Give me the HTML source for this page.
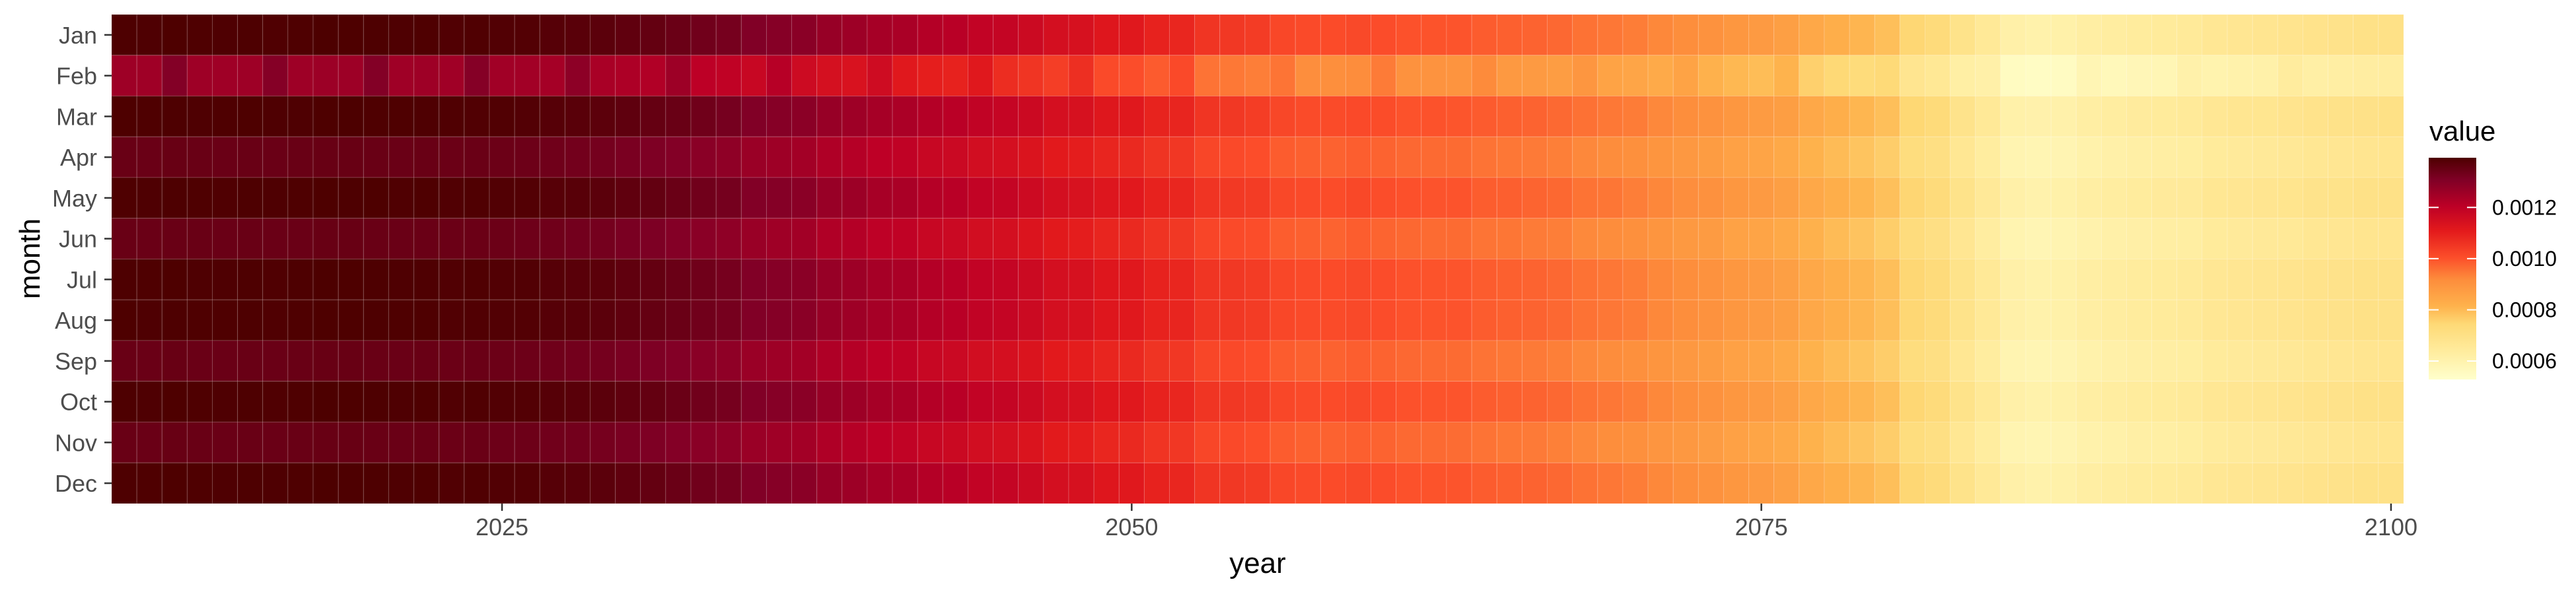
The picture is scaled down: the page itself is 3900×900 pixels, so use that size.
<!DOCTYPE html>
<html><head><meta charset="utf-8"><style>
html,body{margin:0;padding:0;background:#fff;}
svg{display:block;font-family:"Liberation Sans",Arial,sans-serif;}
</style></head><body>
<svg id="chart" width="3900" height="900" xmlns="http://www.w3.org/2000/svg">
<defs>
<linearGradient id="cbar" x1="0" y1="1" x2="0" y2="0">
<stop offset="0" stop-color="#FFFFCC"/><stop offset="0.12" stop-color="#FFEDA0"/><stop offset="0.25" stop-color="#FED976"/><stop offset="0.33" stop-color="#FEB24C"/><stop offset="0.45" stop-color="#FD8D3C"/><stop offset="0.55" stop-color="#FC4E2A"/><stop offset="0.67" stop-color="#E31A1C"/><stop offset="0.78" stop-color="#BD0026"/><stop offset="0.9" stop-color="#800026"/><stop offset="1" stop-color="#4D0000"/>
</linearGradient>
</defs>
<g id="cells"></g>
<g id="axes"></g>
<text x="1904" y="868" font-size="44" text-anchor="middle" fill="#000">year</text>
<text transform="translate(60,392) rotate(-90)" font-size="44" text-anchor="middle" fill="#000">month</text>
<g>
<text x="3678" y="213" font-size="42" fill="#000">value</text>
<rect x="3677" y="239" width="72" height="336" fill="url(#cbar)"/>
<g id="legendTicks"></g>
</g>
</svg>
<script>
const months = ["Jan","Feb","Mar","Apr","May","Jun","Jul","Aug","Sep","Oct","Nov","Dec"];
const yearStart = 2010;
const yearEnd = 2100;
const xTicks = [2025, 2050, 2075, 2100];
const legendTicks = [0.0006, 0.0008, 0.0010, 0.0012];
const legendTickLabels = ["0.0006","0.0008","0.0010","0.0012"];
const valueMin = 528e-6, valueMax = 1394e-6;
// values in units of 1e-6
const jan = [1392,1390,1393,1391,1390,1392,1389,1391,1394,1393,1392,1390,1391,1388,1389,1386,1384,1378,1374,1370,1362,1355,1345,1333,1325,1305,1298,1290,1268,1258,1242,1235,1218,1210,1192,1185,1168,1148,1140,1122,1115,1092,1085,1055,1048,1040,1018,1012,1010,1015,1008,1000,998,996,985,980,975,968,955,948,940,925,915,905,890,880,868,842,825,808,790,748,732,690,655,612,605,610,625,632,640,645,650,665,670,675,680,688,692,698,700];
const feb = [1257,1255,1302,1256,1255,1257,1299,1256,1259,1258,1302,1255,1256,1253,1299,1252,1250,1244,1285,1237,1230,1224,1258,1204,1196,1178,1214,1165,1145,1136,1161,1115,1100,1093,1115,1070,1055,1037,1066,1013,1007,986,1014,953,946,939,952,914,912,917,942,903,901,899,921,885,880,874,893,856,849,835,856,817,804,795,812,760,745,730,739,675,661,623,612,553,546,551,584,571,578,582,608,600,605,610,636,621,625,630,632];
const mar = [1393,1391,1392,1390,1391,1393,1390,1390,1393,1394,1391,1391,1390,1389,1388,1387,1383,1379,1373,1369,1363,1354,1346,1334,1324,1306,1297,1289,1269,1257,1243,1234,1219,1209,1193,1184,1169,1147,1141,1121,1116,1091,1086,1054,1049,1039,1019,1011,1011,1014,1009,999,999,995,986,979,976,967,956,947,941,924,916,904,891,879,869,841,826,807,791,747,733,689,656,611,606,609,626,631,641,644,651,664,671,674,681,687,693,697,701];
const apr = [1347,1345,1348,1346,1345,1347,1344,1346,1349,1348,1347,1345,1346,1343,1344,1341,1339,1334,1330,1326,1318,1311,1302,1290,1282,1263,1256,1248,1227,1217,1202,1195,1179,1171,1154,1147,1130,1111,1103,1086,1079,1057,1050,1021,1014,1006,985,979,977,982,975,968,966,964,953,948,944,937,924,917,910,895,886,876,861,852,840,815,798,782,765,724,709,668,634,592,586,590,605,612,619,624,629,644,649,653,658,666,670,676,678];
const may = [1391,1390,1392,1391,1389,1392,1390,1391,1393,1392,1393,1389,1391,1387,1389,1385,1384,1377,1375,1370,1361,1356,1344,1333,1326,1304,1299,1290,1267,1259,1241,1236,1217,1211,1191,1186,1167,1149,1139,1123,1114,1093,1084,1056,1047,1041,1017,1013,1009,1016,1007,1001,997,997,984,981,974,969,954,949,939,926,914,906,889,881,867,843,824,809,789,749,731,691,654,613,604,611,624,633,639,646,649,666,669,676,679,689,691,699,699];
const jun = [1346,1345,1347,1346,1344,1347,1344,1345,1348,1348,1346,1345,1345,1343,1343,1341,1338,1335,1329,1326,1317,1312,1301,1290,1281,1264,1255,1249,1226,1218,1201,1196,1178,1172,1153,1148,1129,1112,1102,1087,1078,1058,1049,1022,1013,1007,984,980,976,983,974,969,965,965,952,949,943,938,923,918,909,896,885,877,860,853,839,816,797,783,764,725,708,669,633,593,585,591,604,613,618,625,628,645,648,654,657,667,669,677,677];
const jul = [1392,1391,1393,1390,1390,1392,1389,1392,1394,1393,1392,1390,1390,1388,1389,1386,1385,1378,1374,1371,1362,1355,1345,1334,1325,1305,1298,1291,1268,1258,1242,1235,1218,1210,1192,1186,1168,1148,1140,1122,1115,1092,1085,1055,1048,1040,1018,1012,1010,1015,1008,1000,998,996,985,980,975,968,955,948,940,925,915,905,890,880,868,842,825,808,790,748,732,690,655,612,605,610,625,632,640,645,650,665,670,675,680,688,692,698,700];
const aug = [1393,1390,1392,1391,1391,1392,1389,1391,1393,1393,1392,1391,1391,1388,1388,1386,1384,1378,1375,1370,1362,1354,1345,1333,1325,1305,1299,1290,1268,1257,1242,1235,1218,1210,1193,1185,1168,1148,1141,1122,1115,1092,1086,1055,1048,1040,1018,1012,1011,1015,1008,1000,998,997,985,980,975,968,955,948,941,925,915,905,890,880,869,842,825,808,790,748,732,690,655,612,605,611,625,632,640,645,650,665,670,675,680,688,692,698,700];
const sep = [1347,1345,1348,1345,1345,1347,1344,1346,1349,1348,1347,1345,1346,1343,1344,1341,1339,1334,1330,1326,1318,1311,1302,1290,1282,1263,1256,1248,1227,1217,1202,1195,1179,1171,1154,1147,1130,1111,1103,1086,1079,1057,1050,1021,1014,1006,985,979,977,982,975,968,966,964,953,948,944,937,924,917,910,895,886,876,861,852,840,815,798,782,765,724,709,668,634,592,586,590,605,612,619,624,629,644,649,653,658,666,670,676,678];
const oct = [1392,1390,1393,1391,1390,1392,1389,1391,1394,1393,1392,1390,1391,1388,1389,1386,1384,1378,1374,1370,1362,1355,1345,1333,1325,1305,1298,1290,1268,1258,1242,1235,1218,1210,1192,1185,1168,1148,1140,1122,1115,1092,1085,1055,1048,1040,1018,1012,1010,1015,1008,1000,998,996,985,980,975,968,955,948,940,925,915,905,890,880,868,842,825,808,790,748,732,690,655,612,605,610,625,632,640,645,650,665,670,675,680,688,692,698,700];
const nov = [1346,1345,1348,1346,1345,1346,1344,1346,1348,1348,1347,1344,1346,1343,1344,1340,1339,1333,1330,1325,1318,1311,1301,1290,1281,1263,1255,1248,1227,1216,1202,1194,1179,1170,1154,1146,1130,1110,1103,1085,1079,1056,1050,1020,1014,1005,985,978,977,981,975,967,966,963,953,947,944,936,924,916,910,894,886,875,861,851,840,814,798,781,765,723,709,667,634,591,586,589,605,611,619,623,629,643,649,652,658,665,670,675,678];
const dec = [1392,1391,1393,1391,1390,1392,1390,1391,1394,1392,1392,1390,1391,1388,1389,1386,1384,1378,1374,1370,1362,1355,1345,1333,1325,1305,1298,1290,1268,1258,1242,1235,1218,1210,1192,1185,1168,1148,1140,1122,1115,1092,1085,1055,1048,1040,1018,1012,1010,1015,1008,1000,998,996,985,980,975,968,955,948,940,925,915,905,890,880,868,842,825,808,790,748,732,690,655,612,605,610,625,632,640,645,650,665,670,675,680,688,692,698,700];
const series = [jan,feb,mar,apr,may,jun,jul,aug,sep,oct,nov,dec];

const P = {l:169, r:3639, t:22, b:763};
const nYears = yearEnd - yearStart + 1;
const cw = (P.r - P.l) / nYears;
const rh = (P.b - P.t) / months.length;
function xScale(year){ return P.l + (year - yearStart + 0.5) * cw; }
function yScale(i){ return P.t + (i + 0.5) * rh; }
const stops = [[0,"#FFFFCC"],[0.12,"#FFEDA0"],[0.25,"#FED976"],[0.33,"#FEB24C"],[0.45,"#FD8D3C"],[0.55,"#FC4E2A"],[0.67,"#E31A1C"],[0.78,"#BD0026"],[0.9,"#800026"],[1,"#4D0000"]];
function hex(c){return [parseInt(c.slice(1,3),16),parseInt(c.slice(3,5),16),parseInt(c.slice(5,7),16)];}
function colorScale(v){
  let f = (v - valueMin) / (valueMax - valueMin);
  f = Math.max(0, Math.min(1, f));
  for (let k = 1; k < stops.length; k++){
    if (f <= stops[k][0]){
      const a = stops[k-1], b = stops[k];
      const t = (f - a[0]) / (b[0] - a[0]);
      const ca = hex(a[1]), cb = hex(b[1]);
      return "rgb(" + ca.map((x,j)=>Math.round(x + (cb[j]-x)*t)).join(",") + ")";
    }
  }
  return stops[stops.length-1][1];
}
function legendY(v){ return 575 - (v - valueMin) / (valueMax - valueMin) * 336; }
const NS = "http://www.w3.org/2000/svg";
function mk(tag, attrs, parent){
  const e = document.createElementNS(NS, tag);
  for (const k in attrs) e.setAttribute(k, attrs[k]);
  parent.appendChild(e);
  return e;
}
const cells = document.getElementById("cells");
series.forEach((arr, mi) => {
  arr.forEach((val, yi) => {
    const yr = yearStart + yi;
    const r = mk("rect", {x: xScale(yr) - cw/2, y: yScale(mi) - rh/2, width: cw, height: rh, fill: colorScale(val * 1e-6), stroke: "rgba(255,255,255,0.18)", "stroke-width": 1}, cells);
    
    
  });
});
const axes = document.getElementById("axes");
months.forEach((m, i) => {
  const t = mk("line", {x1: 158, x2: P.l, y1: yScale(i), y2: yScale(i), stroke: "#333", "stroke-width": 2.5}, axes);
  
  
  const tx = mk("text", {x: 147, y: yScale(i) + 13, "font-size": 36, "text-anchor": "end", fill: "#4d4d4d"}, axes);
  tx.textContent = m;
  
  
});
xTicks.forEach(yr => {
  const t = mk("line", {x1: xScale(yr), x2: xScale(yr), y1: P.b, y2: P.b + 11, stroke: "#333", "stroke-width": 2.5}, axes);
  
  
  const tx = mk("text", {x: xScale(yr), y: 811, "font-size": 36, "text-anchor": "middle", fill: "#4d4d4d"}, axes);
  tx.textContent = String(yr);
  
  
});
const lg = document.getElementById("legendTicks");
legendTicks.forEach((v, i) => {
  const y = legendY(v);
  const a = mk("line", {x1: 3677, x2: 3692, y1: y, y2: y, stroke: "#fff", "stroke-width": 2}, lg);
  
  
  const b = mk("line", {x1: 3735, x2: 3749, y1: y, y2: y, stroke: "#fff", "stroke-width": 2}, lg);
  
  
  const tx = mk("text", {x: 3773, y: y + 11, "font-size": 32, fill: "#000"}, lg);
  tx.textContent = legendTickLabels[i];
  
  
});
</script>
</body></html>
